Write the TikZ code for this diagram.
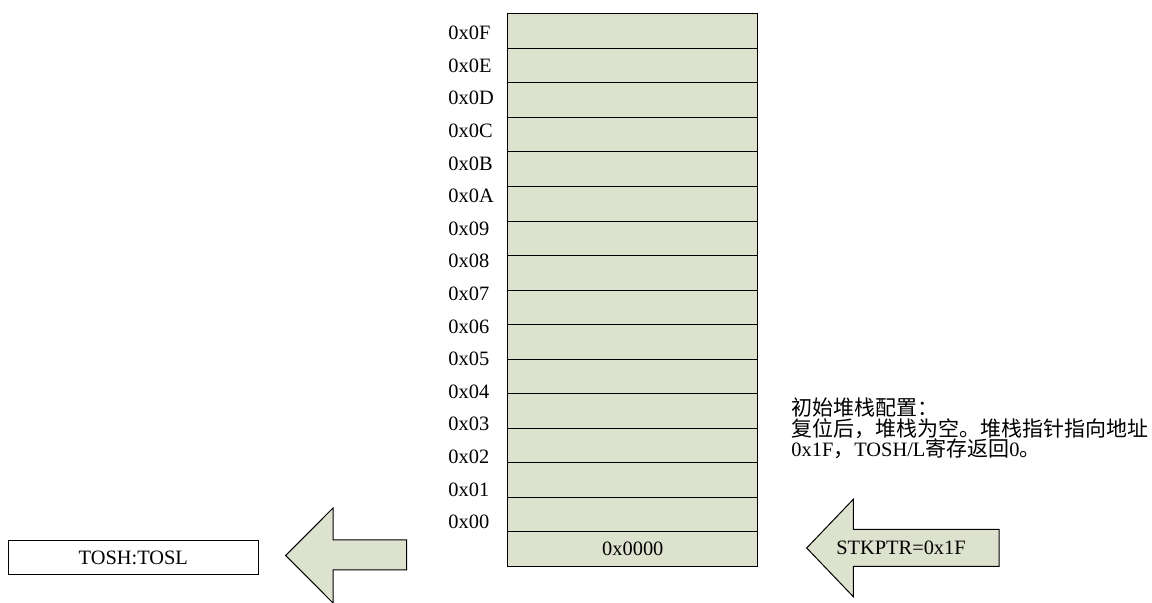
\documentclass[tikz,border=0pt]{standalone}
\usepackage{fontspec}
\setmainfont{Liberation Serif}
\newfontfamily\cjk{Noto Sans CJK SC}
\newcommand{\zh}[1]{{\cjk\fontsize{10.5}{12}\selectfont #1}}
\definecolor{stackfill}{RGB}{221,226,206}
\begin{document}
\begin{tikzpicture}[x=0.5pt,y=-0.5pt,
  every node/.style={font=\fontsize{10.2}{12}\selectfont},
  cell/.style={draw=black,fill=stackfill,line width=0.5pt,minimum width=125pt,minimum height=17.27pt,inner sep=0pt,anchor=north west},
  addr/.style={anchor=west,inner sep=0pt},
  blockarrow/.style={draw=black,fill=stackfill,line width=0.5pt,line join=miter},
  note/.style={anchor=west,inner sep=0pt}]
\useasboundingbox (0,0) rectangle (1152,603);
% stack cells
\foreach \i in {1,...,15} {
  \node[cell] (cell\i) at (507.3,{13.3+34.54*(\i-1)}) {};
}
\node[cell] (cell16) at (507.3,{13.3+34.54*15}) {0x0000};
% address labels
\foreach \lab [count=\k from 0] in {0x0F,0x0E,0x0D,0x0C,0x0B,0x0A,0x09,0x08,0x07,0x06,0x05,0x04,0x03,0x02,0x01,0x00} {
  \node[addr] (addr\k) at (448,{33+32.6*\k}) {\lab};
}
% left block arrow
\draw[blockarrow] (285.7,555.5) -- (333,508) -- (333,540) -- (406.7,540) -- (406.7,570) -- (333,570) -- (333,603) -- cycle;
% TOSH:TOSL box
\node[draw=black,line width=0.5pt,minimum width=125pt,minimum height=17.2pt,inner sep=0pt] (tos) at (133.3,557.8) {TOSH:TOSL};
% right block arrow
\draw[blockarrow] (806.7,548) -- (853.3,499.3) -- (853.3,529.3) -- (999,529.3) -- (999,566.5) -- (853.3,566.5) -- (853.3,596.7) -- cycle;
\node[inner sep=0pt] (stk) at (901,547.5) {STKPTR=0x1F};
% note
\node[note] (note1) at (791,408) {\zh{初始堆栈配置：}};
\node[note] (note2) at (791,428.5) {\zh{复位后，堆栈为空。堆栈指针指向地址}};
\node[note] (note3) at (791,449) {0x1F\zh{，}TOSH/L\zh{寄存返回}0\zh{。}};
\end{tikzpicture}
\end{document}
